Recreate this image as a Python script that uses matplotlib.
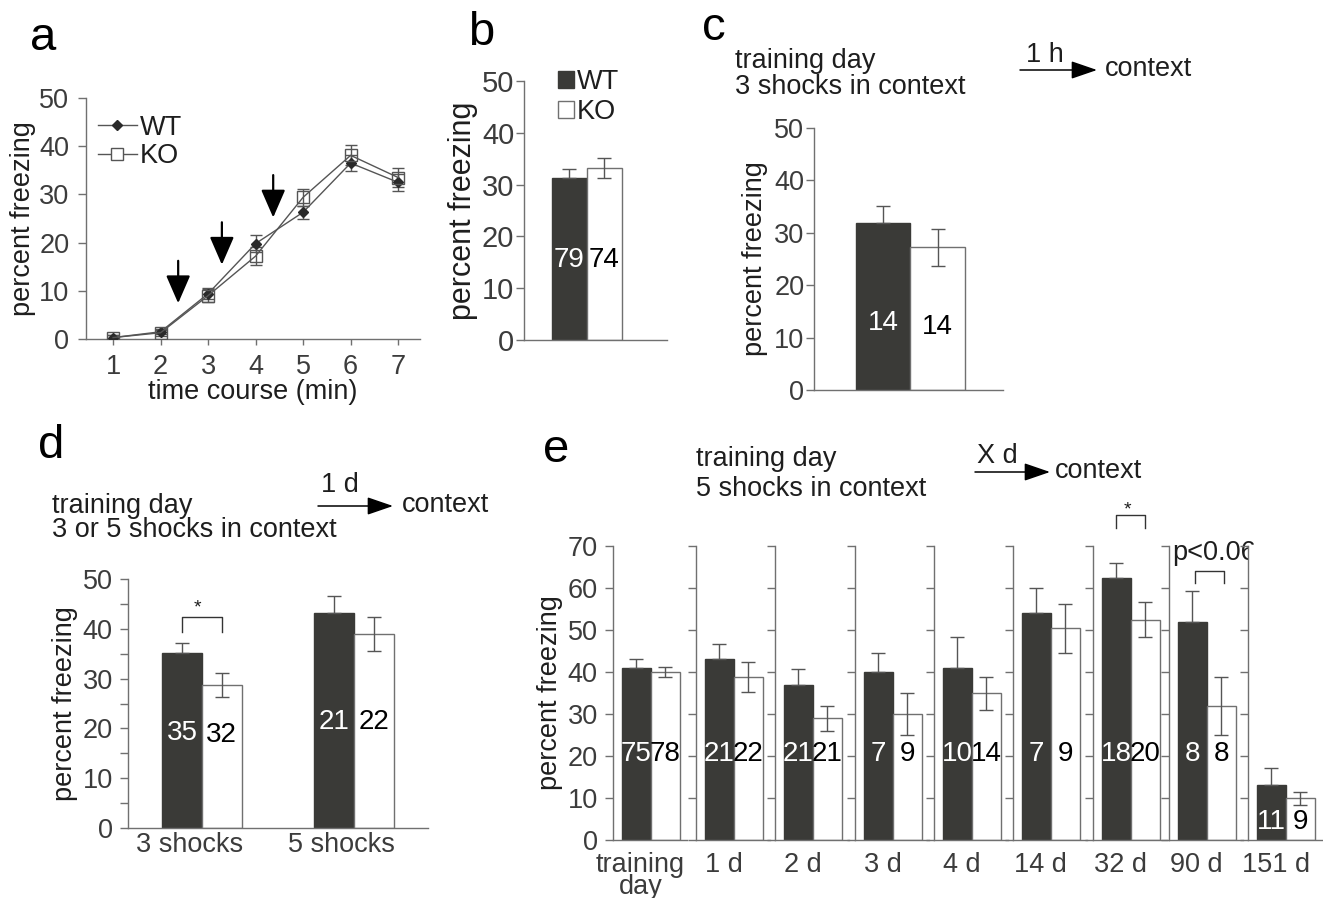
import numpy as np
import matplotlib
matplotlib.use('Agg')
import matplotlib.pyplot as plt
from matplotlib.lines import Line2D
from matplotlib.patches import Patch, FancyArrowPatch

plt.rcParams['font.family'] = ['Liberation Sans', 'DejaVu Sans']

# ---------------- data ----------------
# a: freezing during training (3 shocks)
minutes = [1, 2, 3, 4, 5, 6, 7]
a_wt = [0.3, 1.5, 9.4, 19.8, 26.3, 36.5, 32.5]
a_wt_err = [0.6, 0.5, 1.2, 1.8, 1.3, 1.6, 1.7]
a_ko = [0.3, 1.3, 9.0, 17.2, 29.4, 38.1, 33.5]
a_ko_err = [0.5, 0.6, 1.3, 1.8, 1.8, 2.1, 2.0]
shock_times = [2.37, 3.29, 4.37]

# b: all animals
b_means = [31.3, 33.2]
b_errs = [1.8, 1.9]
b_n = [79, 74]

# c: 1 h after training
c_means = [31.8, 27.2]
c_errs = [3.4, 3.6]
c_n = [14, 14]

# d: 1 d after training
d_groups = ['3 shocks', '5 shocks']
d_wt = [35.1, 43.2]
d_wt_err = [2.0, 3.4]
d_ko = [28.7, 39.0]
d_ko_err = [2.4, 3.4]
d_n_wt = [35, 21]
d_n_ko = [32, 22]

# e: X d after training
e_delays = ['training\nday', '1 d', '2 d', '3 d', '4 d', '14 d', '32 d', '90 d', '151 d']
e_wt = [40.9, 43.0, 36.9, 39.9, 40.9, 54.1, 62.5, 52.0, 13.1]
e_wt_err = [2.1, 3.7, 3.9, 4.7, 7.4, 5.8, 3.4, 7.3, 4.1]
e_ko = [39.9, 38.9, 29.0, 29.9, 34.9, 50.4, 52.5, 32.0, 9.9]
e_ko_err = [1.2, 3.6, 3.0, 5.0, 4.0, 5.8, 4.2, 6.9, 1.6]
e_n_wt = [75, 21, 21, 7, 10, 7, 18, 8, 11]
e_n_ko = [78, 22, 21, 9, 14, 9, 20, 8, 9]

# ---------------- style ----------------
DARK = '#3a3a37'
SPINE = '#707070'
TICK = '#3c3c3c'
TXT = '#1e1e1e'
ERR = '#555555'
FS = 19.5

W, H = 1323, 898
fig = plt.figure(figsize=(W / 100, H / 100), dpi=100)


def add_ax(left, top, right, bottom):
    # pixel box measured from top-left of the figure
    return fig.add_axes([left / W, 1 - bottom / H, (right - left) / W, (bottom - top) / H])


def style(ax, size=FS, pad=2, length=6):
    for s in ['top', 'right']:
        ax.spines[s].set_visible(False)
    for s in ['left', 'bottom']:
        ax.spines[s].set_color(SPINE)
        ax.spines[s].set_linewidth(1.0)
    ax.tick_params(axis='y', direction='out', length=length, width=1, color=SPINE,
                   labelsize=size, labelcolor=TICK, pad=pad)
    ax.tick_params(axis='x', direction='out', length=0, width=1, color=SPINE,
                   labelsize=size, labelcolor=TICK)


def bars(ax, xw, xk, mw, ew, mk, ek, w):
    xw, xk = np.atleast_1d(xw), np.atleast_1d(xk)
    mw, ew = np.atleast_1d(mw), np.atleast_1d(ew)
    mk, ek = np.atleast_1d(mk), np.atleast_1d(ek)
    ax.bar(xw, mw, w, color=DARK, edgecolor=DARK, lw=1, zorder=2)
    ax.bar(xk, mk, w, color='white', edgecolor=SPINE, lw=1, zorder=2)
    ax.errorbar(xw, mw, yerr=[np.zeros_like(ew), ew], fmt='none', ecolor=ERR,
                elinewidth=1, capsize=4.7, capthick=1, zorder=3)
    ax.errorbar(xk, mk, yerr=ek, fmt='none', ecolor=ERR,
                elinewidth=1, capsize=4.7, capthick=1, zorder=3)


def n_labels(ax, xs, ys, labels, color, size=20):
    for x, y, s in zip(np.atleast_1d(xs), np.atleast_1d(ys), labels):
        ax.text(x, y, str(s), ha='center', va='center', fontsize=size, color=color, zorder=4)


def bracket(ax, x0, x1, top, leg):
    ax.plot([x0, x0, x1, x1], [leg, top, top, leg], color='#333333', lw=1, clip_on=False)


def ftext(x, y, s, **kw):
    kw.setdefault('color', TXT)
    kw.setdefault('fontsize', FS)
    fig.text(x / W, 1 - y / H, s, **kw)


def farrow(x0, x1, y):
    fig.add_artist(FancyArrowPatch((x0 / W, 1 - y / H), (x1 / W, 1 - y / H),
                                   transform=fig.transFigure,
                                   arrowstyle='-|>,head_length=1.6,head_width=0.55',
                                   mutation_scale=10, color='black', lw=1.1,
                                   shrinkA=0, shrinkB=0))


# ---------------- a ----------------
ax = add_ax(86, 98, 420, 339)
style(ax, pad=6)
ax.errorbar(minutes, a_wt, yerr=a_wt_err, color=ERR, lw=1, marker='D', ms=5.5,
            mfc='#2a2a2a', mec='#2a2a2a', capsize=4.3, elinewidth=1, zorder=3)
ax.errorbar(minutes, a_ko, yerr=a_ko_err, color=ERR, lw=1, marker='s', ms=8.5,
            mfc='none', mec=ERR, capsize=4.3, elinewidth=1, zorder=3)
for t in shock_times:
    y0 = np.interp(t, minutes, a_wt)
    ax.annotate('', xy=(t, y0 + 3.0), xytext=(t, y0 + 11.8),
                arrowprops=dict(arrowstyle='-|>,head_length=1.15,head_width=0.5',
                                mutation_scale=15, color='black', lw=1.6,
                                shrinkA=0, shrinkB=0))
ax.set_xlim(0.43, 7.46)
ax.set_ylim(0, 50)
ax.set_xticks(minutes)
ax.set_yticks(range(0, 51, 10))
ax.tick_params(axis='x', length=4, pad=7)
ax.set_xlabel('time course (min)', fontsize=FS, color=TXT, labelpad=-1)
ax.set_ylabel('percent freezing', fontsize=FS, color=TXT, labelpad=2)
handles = [Line2D([], [], color=ERR, lw=1, marker='D', ms=5.5, mfc='#2a2a2a', mec='#2a2a2a'),
           Line2D([], [], color=ERR, lw=1, marker='s', ms=8.5, mfc='white', mec=ERR)]
ax.legend(handles, ['WT', 'KO'], loc='upper left', bbox_to_anchor=(0.035, 0.93),
          frameon=False, fontsize=FS, handlelength=1.45, handletextpad=0.1,
          labelspacing=0.08, borderpad=0, borderaxespad=0, labelcolor=TXT)

# ---------------- b ----------------
ax = add_ax(524, 81, 667, 340)
style(ax, size=21, pad=1)
bars(ax, 0, 1, b_means[0], b_errs[0], b_means[1], b_errs[1], 1.0)
n_labels(ax, [0], [15.5], [b_n[0]], 'white')
n_labels(ax, [1], [15.5], [b_n[1]], 'black')
ax.set_xlim(-1.3, 2.79)
ax.set_ylim(0, 50)
ax.set_xticks([])
ax.set_yticks(range(0, 51, 10))
ax.set_ylabel('percent freezing', fontsize=22, color=TXT, labelpad=3)
handles = [Patch(facecolor=DARK, edgecolor=DARK), Patch(facecolor='white', edgecolor=SPINE)]
ax.legend(handles, ['WT', 'KO'], loc='upper left', bbox_to_anchor=(0.235, 1.045),
          frameon=False, fontsize=FS, handlelength=0.6, handleheight=0.6,
          handletextpad=0.1, labelspacing=0.15, borderpad=0, borderaxespad=0,
          labelcolor=TXT)

# ---------------- c ----------------
ax = add_ax(814, 128, 1003, 390)
style(ax, pad=1)
bars(ax, 0, 1, c_means[0], c_errs[0], c_means[1], c_errs[1], 1.0)
n_labels(ax, [0], [12.8], [c_n[0]], 'white')
n_labels(ax, [1], [12.0], [c_n[1]], 'black')
ax.set_xlim(-1.27, 2.2)
ax.set_ylim(0, 50)
ax.set_xticks([])
ax.set_yticks(range(0, 51, 10))
ax.set_ylabel('percent freezing', fontsize=FS, color=TXT, labelpad=4)

# ---------------- d ----------------
ax = add_ax(128, 579, 428, 828)
style(ax, pad=5)
gx = np.arange(len(d_groups))
bw = 0.26
bars(ax, gx - bw / 2, gx + bw / 2, d_wt, d_wt_err, d_ko, d_ko_err, bw)
n_labels(ax, gx - bw / 2, [19.0, 21.3], d_n_wt, 'white')
n_labels(ax, gx + bw / 2, [18.7, 21.3], d_n_ko, 'black')
bracket(ax, -bw / 2, bw / 2, 42.4, 39.4)
ax.text(-0.03, 43.2, '*', ha='center', va='baseline', fontsize=14, color=TXT)
ax.set_xlim(-0.487, 1.487)
ax.set_ylim(0, 50)
ax.set_xticks(gx - 0.08)
ax.set_xticklabels(d_groups)
ax.tick_params(axis='x', pad=3)
ax.set_yticks(range(0, 51, 10))
ax.set_yticks(range(5, 50, 10), minor=True)
ax.tick_params(axis='y', which='minor', length=6, width=1, color=SPINE)
ax.set_ylabel('percent freezing', fontsize=FS, color=TXT, labelpad=3)

# ---------------- e ----------------
e_lefts = [613, 696, 775, 855, 934, 1013, 1093, 1169, 1248]
for i, left in enumerate(e_lefts):
    ax = add_ax(left, 546, left + 74, 840)
    style(ax, pad=5)
    bars(ax, 0, 1, e_wt[i], e_wt_err[i], e_ko[i], e_ko_err[i], 1.0)
    ly = 20.5 if e_wt[i] > 30 else 4.2
    n_labels(ax, [0], [ly], [e_n_wt[i]], 'white')
    n_labels(ax, [1], [ly], [e_n_ko[i]], 'black')
    ax.set_xlim(-0.8, 1.75)
    ax.set_ylim(0, 70)
    ax.set_yticks(range(0, 71, 10))
    ax.set_xticks([0.15])
    ax.set_xticklabels([e_delays[i]])
    ax.tick_params(axis='x', pad=9)
    for lab in ax.get_xticklabels():
        lab.set_linespacing(0.8)
    if i == 0:
        ax.set_ylabel('percent freezing', fontsize=FS, color=TXT, labelpad=3)
    else:
        ax.set_yticklabels([])
    if e_delays[i] == '32 d':
        bracket(ax, 0, 1, 77.4, 74.3)
        ax.text(0.4, 77.6, '*', ha='center', va='baseline', fontsize=14, color=TXT,
                clip_on=False)
    if e_delays[i] == '90 d':
        bracket(ax, 0.1, 1.1, 64.0, 61.2)
        ax.text(0.74, 66.7, 'p<0.06', ha='center', va='baseline', fontsize=FS,
                color=TXT, clip_on=False)

# ---------------- panel letters and schemes ----------------
ftext(30, 50, 'a', fontsize=34, color='black')
ftext(468, 45, 'b', fontsize=34, color='black')
ftext(702, 40, 'c', fontsize=34, color='black')
ftext(38, 458, 'd', fontsize=34, color='black')
ftext(543, 462, 'e', fontsize=34, color='black')

ftext(735, 68, 'training day', va='baseline')
ftext(735, 94, '3 shocks in context', va='baseline')
farrow(1020, 1097, 70)
ftext(1045, 62, '1 h', ha='center', va='baseline')
ftext(1105, 76, 'context', va='baseline')

ftext(52, 513, 'training day', va='baseline')
ftext(52, 537, '3 or 5 shocks in context', va='baseline')
farrow(318, 393, 506)
ftext(340, 492, '1 d', ha='center', va='baseline')
ftext(402, 512, 'context', va='baseline')

ftext(696, 466, 'training day', va='baseline')
ftext(696, 496, '5 shocks in context', va='baseline')
farrow(975, 1050, 472)
ftext(997, 463, 'X d', ha='center', va='baseline')
ftext(1055, 478, 'context', va='baseline')

fig.savefig('out.png', dpi=100, facecolor='white')
